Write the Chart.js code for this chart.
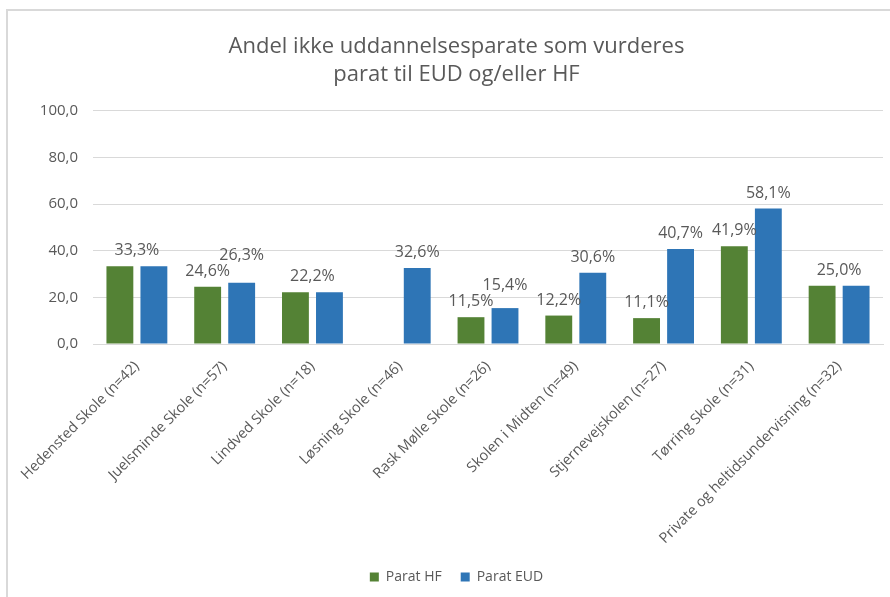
<!DOCTYPE html>
<html>
<head>
<meta charset="utf-8">
<script src="https://cdn.jsdelivr.net/npm/chart.js@4"></script>
<style>
  html, body { margin: 0; padding: 0; background: #fff; }
  #frame { position: absolute; left: 6px; top: 9px; width: 900px; height: 600px;
           border-left: 2px solid #d9d9d9; border-top: 2px solid #d9d9d9; }
  #chart { position: absolute; left: 0; top: 0; }
</style>
</head>
<body>
<div id="frame"></div>
<canvas id="chart" width="890" height="597"></canvas>
<script>
// data
const categories = [
  "Hedensted Skole (n=42)",
  "Juelsminde Skole (n=57)",
  "Lindved Skole (n=18)",
  "Løsning Skole (n=46)",
  "Rask Mølle Skole (n=26)",
  "Skolen i Midten (n=49)",
  "Stjernevejskolen (n=27)",
  "Tørring Skole (n=31)",
  "Private og heltidsundervisning (n=32)"
];
const paratHF  = [33.3, 24.6, 22.2, null, 11.5, 12.2, 11.1, 41.9, 25.0];
const paratEUD = [33.3, 26.3, 22.2, 32.6, 15.4, 30.6, 40.7, 58.1, 25.0];
const yTicks = [0, 20, 40, 60, 80, 100];

const FONT = "'Open Sans', sans-serif";
const GREY = "#595959";
const fmt = v => v.toFixed(1).replace(".", ",");

// value labels above the bars, one label when both bars are equal
const barLabels = {
  id: "barLabels",
  afterDatasetsDraw(chart) {
    const c = chart.ctx;
    const m0 = chart.getDatasetMeta(0), m1 = chart.getDatasetMeta(1);
    const gap = 11, h = 12;
    c.save();
    c.font = "16px " + FONT;
    c.fillStyle = GREY;
    c.textAlign = "center";
    c.textBaseline = "alphabetic";
    categories.forEach((_, i) => {
      const a = paratHF[i], b = paratEUD[i];
      const ga = m0.data[i], gb = m1.data[i];
      if (a != null && a === b) {
        c.fillText(fmt(a) + "%", (ga.x + gb.x) / 2, Math.min(ga.y, gb.y) - gap);
        return;
      }
      let yA = null;
      if (a != null) {
        yA = ga.y - gap;
        c.fillText(fmt(a) + "%", ga.x, yA);
      }
      if (b != null) {
        let yB = gb.y - gap;
        const t = fmt(b) + "%";
        if (yA != null) {
          const wA = c.measureText(fmt(a) + "%").width, wB = c.measureText(t).width;
          const overlapX = (ga.x + wA / 2) > (gb.x - wB / 2);
          const overlapY = yB > yA - h - 4;
          if (overlapX && overlapY) yB = yA - h - 4;
        }
        c.fillText(t, gb.x, yB);
      }
    });
    c.restore();
  }
};

new Chart(document.getElementById("chart"), {
  type: "bar",
  data: {
    labels: categories,
    datasets: [
      { label: "Parat HF", data: paratHF, backgroundColor: "#548235" },
      { label: "Parat EUD", data: paratEUD, backgroundColor: "#2E75B6" }
    ]
  },
  options: {
    responsive: false,
    animation: false,
    categoryPercentage: 0.775,
    barPercentage: 0.79,
    layout: { padding: { left: 30, right: 7, top: 0, bottom: 3 } },
    plugins: {
      title: {
        display: true,
        text: ["Andel ikke uddannelsesparate som vurderes", "parat til EUD og/eller HF"],
        color: GREY,
        font: { family: FONT, size: 22, weight: "normal", lineHeight: 1.27 },
        padding: { top: 33, bottom: 22 }
      },
      legend: {
        position: "bottom",
        labels: {
          color: GREY,
          font: { family: FONT, size: 14 },
          boxWidth: 9,
          boxHeight: 9,
          padding: 19
        }
      },
      tooltip: { enabled: false }
    },
    scales: {
      x: {
        afterFit: s => { s.height = 207; },
        grid: { display: false, drawTicks: false },
        border: { color: "#d9d9d9" },
        ticks: {
          color: GREY,
          font: { family: FONT, size: 14.5 },
          minRotation: 45,
          maxRotation: 45,
          autoSkip: false,
          padding: 14
        }
      },
      y: {
        min: 0,
        max: 100,
        afterFit: s => { s.width = 63; },
        afterBuildTicks: s => { s.ticks = yTicks.map(v => ({ value: v })); },
        grid: { color: "#d9d9d9", lineWidth: 1, drawTicks: false },
        border: { display: false },
        ticks: {
          color: GREY,
          font: { family: FONT, size: 15 },
          padding: 15,
          callback: v => fmt(v)
        }
      }
    }
  },
  plugins: [barLabels]
});
</script>
</body>
</html>
